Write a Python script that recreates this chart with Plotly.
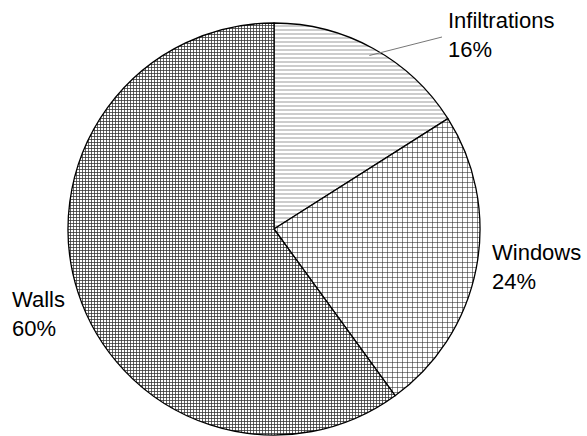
import math
import plotly.graph_objects as go

# Heat-loss shares by building element
labels = ["Infiltrations", "Windows", "Walls"]
values = [16, 24, 60]

W, H = 587, 436
cx, cy, r = 274, 229, 206  # pie centre / radius in pixels

fig = go.Figure(go.Pie(
    labels=labels,
    values=values,
    sort=False,
    direction="clockwise",
    rotation=0,
    textinfo="none",
    hoverinfo="label+percent",
    showlegend=False,
    domain=dict(x=[(cx - r) / W, (cx + r) / W],
                y=[(H - cy - r) / H, (H - cy + r) / H]),
    marker=dict(
        colors=["white", "white", "white"],
        line=dict(color="black", width=1.3),
        pattern=dict(
            shape=["-", "+", "+"],
            size=[4, 5, 3],
            solidity=[0.22, 0.2, 0.45],
            fgcolor=["#8a8a8a", "#222222", "#333333"],
            bgcolor=["white", "white", "white"],
        ),
    ),
))

# label placement (pixels, left edge / vertical middle of the two-line block)
label_pos = {"Infiltrations": (446, 35), "Windows": (490, 267), "Walls": (10, 314)}

total = sum(values)
cum = 0
annotations = []
shapes = []
for lab, v in zip(labels, values):
    frac = v / total
    pct = round(100 * frac)
    mid = 2 * math.pi * (cum + frac / 2)
    cum += frac
    tx, ty = label_pos[lab]
    annotations.append(dict(
        x=tx / W, y=1 - ty / H, xref="paper", yref="paper",
        xanchor="left", yanchor="middle", align="left",
        text=f"{lab}<br>{pct}%", showarrow=False,
        font=dict(family="Liberation Sans, Arial, sans-serif", size=22, color="black"),
    ))
    if lab == "Infiltrations":
        ex = cx + (r - 8) * math.sin(mid)
        ey = cy - (r - 8) * math.cos(mid)
        shapes.append(dict(
            type="line", xref="paper", yref="paper",
            x0=ex / W, y0=1 - ey / H, x1=(tx - 4) / W, y1=1 - (ty + 2) / H,
            line=dict(color="#777777", width=1),
        ))

fig.update_layout(
    width=W, height=H,
    margin=dict(l=0, r=0, t=0, b=0),
    paper_bgcolor="white",
    plot_bgcolor="white",
    annotations=annotations,
    shapes=shapes,
)

fig.write_html("out.html")
